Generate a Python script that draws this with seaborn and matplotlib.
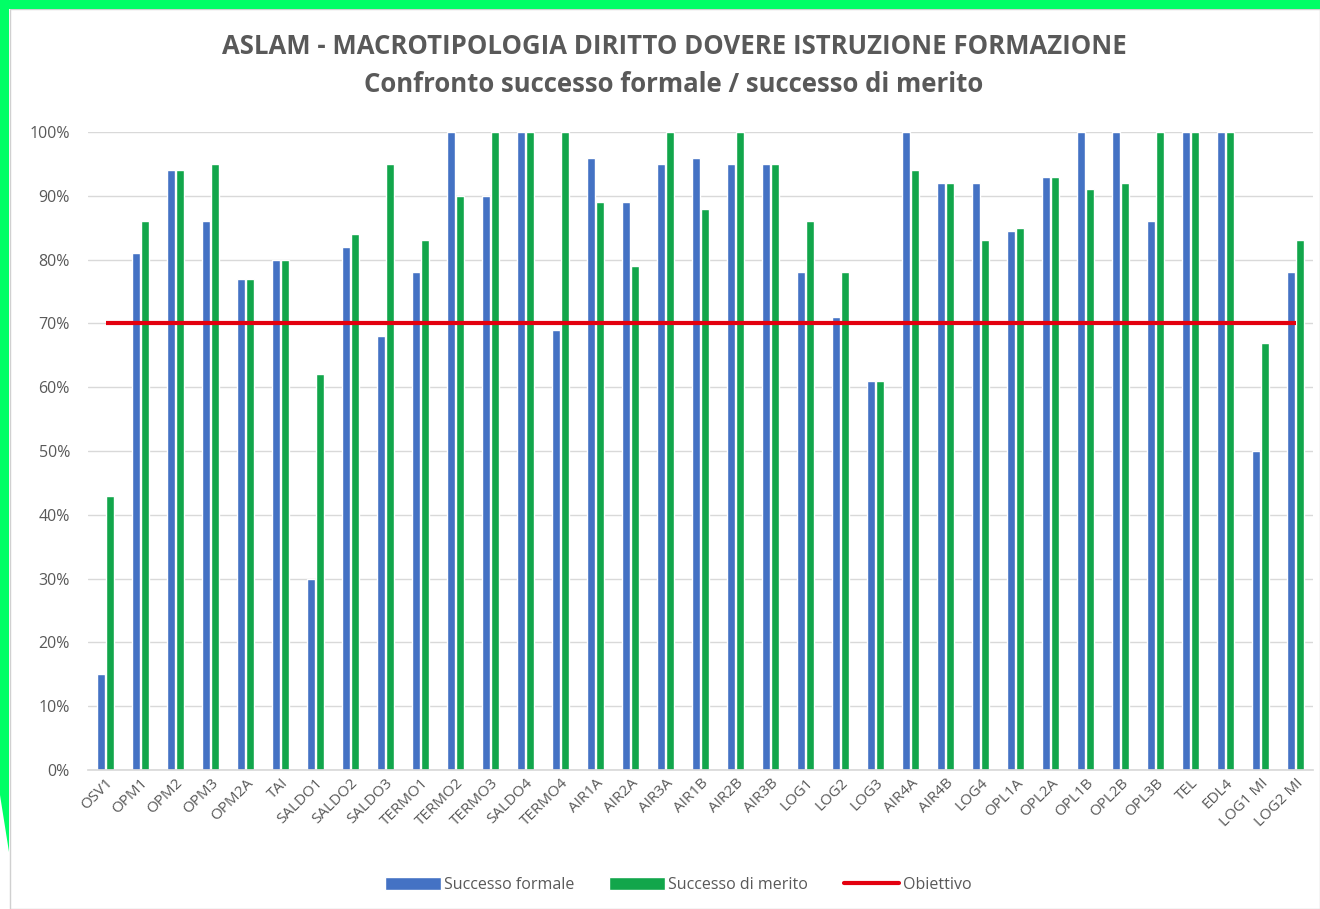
import numpy as np
import pandas as pd
import seaborn as sns
import matplotlib.pyplot as plt
from matplotlib.ticker import PercentFormatter
from matplotlib.patches import Polygon, Patch, Rectangle
from matplotlib.lines import Line2D

# Dati (valori in %)
corsi = ["OSV1", "OPM1", "OPM2", "OPM3", "OPM2A", "TAI", "SALDO1", "SALDO2",
         "SALDO3", "TERMO1", "TERMO2", "TERMO3", "SALDO4", "TERMO4", "AIR1A",
         "AIR2A", "AIR3A", "AIR1B", "AIR2B", "AIR3B", "LOG1", "LOG2", "LOG3",
         "AIR4A", "AIR4B", "LOG4", "OPL1A", "OPL2A", "OPL1B", "OPL2B", "OPL3B",
         "TEL", "EDL4", "LOG1 MI", "LOG2 MI"]
successo_formale = [15, 81, 94, 86, 77, 80, 30, 82, 68, 78, 100, 90, 100, 69,
                    96, 89, 95, 96, 95, 95, 78, 71, 61, 100, 92, 92, 84.5, 93,
                    100, 100, 86, 100, 100, 50, 78]
successo_merito = [43, 86, 94, 95, 77, 80, 62, 84, 95, 83, 90, 100, 100, 100,
                   89, 79, 100, 88, 100, 95, 86, 78, 61, 94, 92, 83, 85, 93,
                   91, 92, 100, 100, 100, 67, 83]
obiettivo = 70

serie = ["Successo formale", "Successo di merito"]
colori = ["#4472C4", "#12A64B"]
rosso = "#E3000F"
grigio = "#595959"

df = pd.DataFrame({"Corso": corsi,
                   serie[0]: successo_formale,
                   serie[1]: successo_merito})
long_df = df.melt(id_vars="Corso", var_name="Serie", value_name="Valore")

sns.set_theme(style="white")
plt.rcParams['font.family'] = ['Open Sans', 'DejaVu Sans']

W, H = 1320, 909
fig = plt.figure(figsize=(W / 100, H / 100), dpi=100)
ax = fig.add_axes([88 / W, 1 - 770 / H, 1225 / W, 638 / H])

sns.barplot(data=long_df, x="Corso", y="Valore", hue="Serie",
            hue_order=serie, palette=colori, saturation=1,
            width=0.5, gap=0.1, legend=False, ax=ax, zorder=2)

# linea obiettivo
ax.hlines(obiettivo, 0, len(corsi) - 1, color=rosso, linewidth=3, zorder=3)

ax.set_ylim(0, 100)
ax.set_xlim(-0.5, len(corsi) - 0.5)
ax.set_yticks(np.arange(0, 101, 10))
ax.yaxis.set_major_formatter(PercentFormatter(100, decimals=0))
ax.grid(axis="y", color="#D9D9D9", linewidth=1, zorder=0)
ax.set_axisbelow(True)
ax.set_xlabel("")
ax.set_ylabel("")
for s in ["top", "right", "left"]:
    ax.spines[s].set_visible(False)
ax.spines["bottom"].set_color("#D9D9D9")
ax.tick_params(axis="y", labelsize=11.5, labelcolor=grigio, length=0, pad=13)
ax.tick_params(axis="x", labelsize=11, labelcolor=grigio, length=0, pad=4)
plt.setp(ax.get_xticklabels(), rotation=45, ha="right", rotation_mode="anchor")

fig.text(674 / W, 1 - 47 / H,
         "ASLAM - MACROTIPOLOGIA DIRITTO DOVERE ISTRUZIONE FORMAZIONE",
         ha="center", va="center", fontsize=18.5, fontweight="bold", color=grigio)
fig.text(674 / W, 1 - 85 / H,
         "Confronto successo formale / successo di merito",
         ha="center", va="center", fontsize=18.5, fontweight="bold", color=grigio)

handles = [Patch(facecolor=colori[0], label=serie[0]),
           Patch(facecolor=colori[1], label=serie[1]),
           Line2D([], [], color=rosso, linewidth=3, label="Obiettivo")]
fig.legend(handles=handles, loc="center", bbox_to_anchor=(678 / W, 1 - 885 / H),
           ncol=3, frameon=False, fontsize=11.5, labelcolor=grigio,
           handlelength=3.5, handleheight=0.8, columnspacing=2.2,
           handletextpad=0.2)

# bordo verde dello screenshot
fig.patches.append(Rectangle((10 / W, 0), 1 - 10 / W, 1 - 9 / H,
                             transform=fig.transFigure, fill=False,
                             edgecolor="#D0D0D0", linewidth=1))
bordo = [(0, 0), (W, 0), (W, 9), (9, 9), (9, 852), (0, 795)]
fig.patches.append(Polygon([(x / W, 1 - y / H) for x, y in bordo],
                           closed=True, transform=fig.transFigure,
                           facecolor="#00FF66", edgecolor="none"))

fig.savefig("out.png", dpi=100)
